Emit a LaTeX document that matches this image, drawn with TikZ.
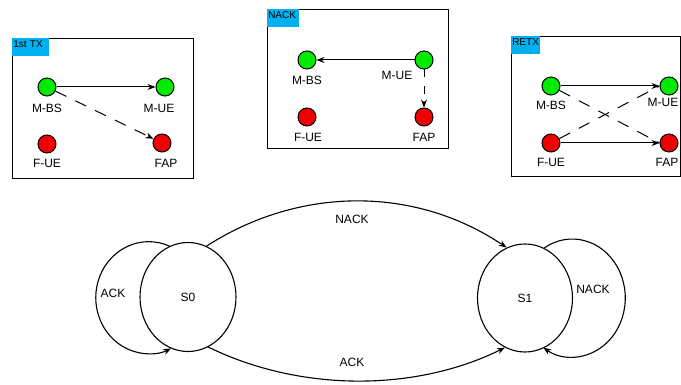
\documentclass[tikz,border=0pt]{standalone}
\usepackage{fontspec}
\setmainfont{Liberation Sans}
\usetikzlibrary{arrows.meta,shapes.geometric}
\definecolor{tagblue}{RGB}{0,176,240}
\definecolor{macrogreen}{RGB}{0,235,0}
\definecolor{femtored}{RGB}{240,0,0}
\tikzset{
  dev/.style={circle,draw,line width=1pt,minimum size=18pt,inner sep=0pt},
  mcell/.style={dev,fill=macrogreen},
  fcell/.style={dev,fill=femtored},
  lbl/.style={inner sep=0pt,font=\fontsize{12}{14}\selectfont},
  frame/.style={draw,line width=0.9pt,inner sep=0pt},
  tag/.style={fill=tagblue,anchor=north west,inner sep=1.5pt,text height=8pt,text depth=7pt,align=left,font=\fontsize{10}{12}\selectfont},
  link/.style={-{Stealth[length=8pt,width=6pt]},line width=1pt},
  dashlink/.style={link,dash pattern=on 12pt off 10pt},
  dashline/.style={line width=1pt,dash pattern=on 12pt off 10pt},
  state/.style={ellipse,draw,line width=1.1pt,inner sep=0pt,font=\fontsize{12}{14}\selectfont},
  arc/.style={-{Stealth[length=8pt,width=6pt]},line width=1.1pt}
}
\begin{document}
\begin{tikzpicture}[x=1pt,y=1pt]
  \useasboundingbox (0,0) rectangle (681,385);
  % ---- panel 1st TX ----
  \node[frame,minimum width=181pt,minimum height=140pt] (txbox) at (102.5,277) {};
  \node[tag,text width=34pt] (txtag) at (txbox.north west) {1st TX};
  \node[mcell] (tx-mbs) at (47,298) {};
  \node[mcell] (tx-mue) at (165,298) {};
  \node[fcell] (tx-fue) at (47,241) {};
  \node[fcell] (tx-fap) at (162,242) {};
  \node[lbl] (tx-mbsl) at (47,277) {M-BS};
  \node[lbl] (tx-muel) at (159,277) {M-UE};
  \node[lbl] (tx-fuel) at (47,222) {F-UE};
  \node[lbl] (tx-fapl) at (166,222) {FAP};
  \draw[link] (tx-mbs) -- (tx-mue);
  \draw[dashlink] (tx-mbs) -- (tx-fap);
  % ---- panel NACK ----
  \node[frame,minimum width=181pt,minimum height=139pt] (nkbox) at (357.5,306.5) {};
  \node[tag,text width=29pt] (nktag) at (nkbox.north west) {NACK};
  \node[mcell] (nk-mbs) at (307,325) {};
  \node[mcell] (nk-mue) at (424,325) {};
  \node[fcell] (nk-fue) at (307,268) {};
  \node[fcell] (nk-fap) at (424,268) {};
  \node[lbl] (nk-mbsl) at (307,305) {M-BS};
  \node[lbl] (nk-muel) at (397,310) {M-UE};
  \node[lbl] (nk-fuel) at (308,248) {F-UE};
  \node[lbl] (nk-fapl) at (424,248) {FAP};
  \draw[link] (nk-mue) -- (nk-mbs);
  \draw[dashlink,dash pattern=on 8pt off 9pt] (nk-mue) -- (nk-fap);
  % ---- panel RETX ----
  \node[frame,minimum width=169pt,minimum height=140pt] (rtbox) at (595.5,279) {};
  \node[tag,text width=26pt] (rttag) at (rtbox.north west) {RETX};
  \node[mcell] (rt-mbs) at (551,299) {};
  \node[mcell] (rt-mue) at (669,299) {};
  \node[fcell] (rt-fue) at (551,242) {};
  \node[fcell] (rt-fap) at (669,242) {};
  \node[lbl] (rt-mbsl) at (551,280) {M-BS};
  \node[lbl] (rt-muel) at (663,283) {M-UE};
  \node[lbl] (rt-fuel) at (551,223) {F-UE};
  \node[lbl] (rt-fapl) at (667,223) {FAP};
  \draw[dashline] (rt-mbs) -- (rt-fap.west);
  \draw[dashline] (rt-fue) -- (rt-mue.west);
  \draw[link] (rt-mbs) -- (rt-mue);
  \draw[link] (rt-fue) -- (rt-fap);
  % ---- state machine ----
  \node[state,minimum width=96pt,minimum height=109pt] (s0) at (188,88) {S0};
  \node[state,minimum width=95pt,minimum height=108pt] (s1) at (525,87) {S1};
  \draw[arc] (s0.70) .. controls (300,199) and (415,199) .. (s1.110);
  \draw[arc] (s0.-68) .. controls (300,-7) and (415,-7) .. (s1.-112);
  \draw[arc] (s0.110) arc[start angle=67,end angle=295,x radius=53,y radius=56];
  \draw[arc] (s1.69) arc[start angle=122,end angle=-123,x radius=53,y radius=59];
  \node[lbl] (nacktop) at (352,166) {NACK};
  \node[lbl] (ackbot) at (352,23) {ACK};
  \node[lbl] (ackloop) at (113,92) {ACK};
  \node[lbl] (nackloop) at (593,96) {NACK};
\end{tikzpicture}
\end{document}
